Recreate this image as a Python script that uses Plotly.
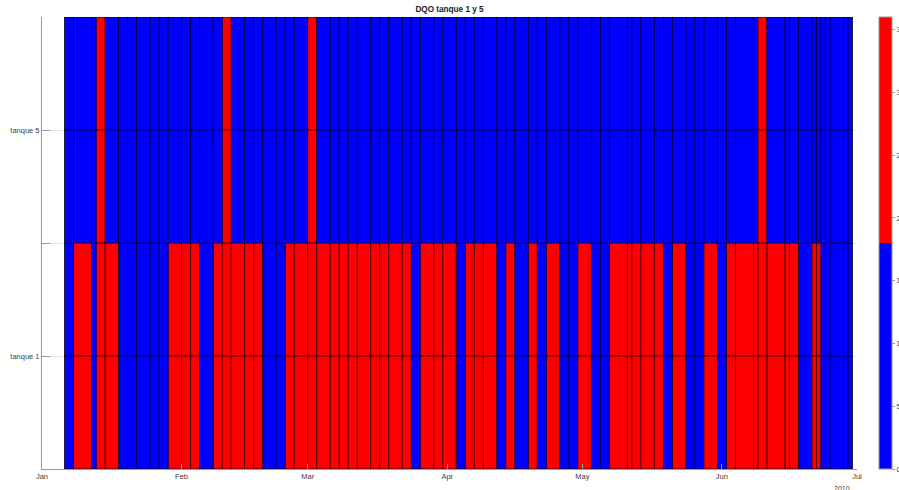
import plotly.graph_objects as go

# ---- data ----
sample_dates = [
    "2010-01-06", "2010-01-08", "2010-01-12", "2010-01-13", "2010-01-15", "2010-01-18",
    "2010-01-20", "2010-01-22", "2010-01-25", "2010-01-27", "2010-01-29", "2010-02-01",
    "2010-02-03", "2010-02-05", "2010-02-08", "2010-02-10", "2010-02-12", "2010-02-15",
    "2010-02-17", "2010-02-19", "2010-02-22", "2010-02-24", "2010-02-26", "2010-03-01",
    "2010-03-03", "2010-03-06", "2010-03-08", "2010-03-10", "2010-03-12", "2010-03-15",
    "2010-03-17", "2010-03-19", "2010-03-22", "2010-03-24", "2010-03-26", "2010-03-29",
    "2010-03-31", "2010-04-03", "2010-04-05", "2010-04-07", "2010-04-09", "2010-04-12",
    "2010-04-14", "2010-04-16", "2010-04-19", "2010-04-21", "2010-04-23", "2010-04-26",
    "2010-04-28", "2010-04-30", "2010-05-03", "2010-05-05", "2010-05-07", "2010-05-11",
    "2010-05-12", "2010-05-14", "2010-05-17", "2010-05-19", "2010-05-21", "2010-05-24",
    "2010-05-26", "2010-05-28", "2010-05-31", "2010-06-02", "2010-06-04", "2010-06-08",
    "2010-06-09", "2010-06-11", "2010-06-15", "2010-06-16", "2010-06-18", "2010-06-21",
    "2010-06-22", "2010-06-23", "2010-06-24", "2010-06-25", "2010-06-28", "2010-06-29",
]
end_date = "2010-06-30"

dqo_tanque1 = [
    12, 24, 15, 27, 22, 14, 11, 9, 13, 16,
    25, 29, 21, 17, 23, 26, 30, 24, 20, 15,
    12, 22, 28, 31, 25, 27, 23, 26, 29, 33,
    24, 21, 19, 14, 22, 25, 20, 16, 23, 27,
    21, 13, 19, 15, 24, 11, 22, 14, 17, 20,
    12, 15, 26, 23, 28, 25, 21, 16, 24, 13,
    10, 22, 15, 27, 30, 25, 33, 28, 24, 21,
    14, 20, 23, 12, 9, 11, 8, 10,
]
dqo_tanque5 = [
    8, 10, 7, 21, 9, 6, 11, 8, 7, 10,
    9, 6, 8, 12, 10, 23, 9, 7, 8, 11,
    10, 9, 7, 20, 8, 6, 9, 10, 8, 7,
    11, 9, 8, 10, 7, 9, 12, 8, 6, 9,
    10, 8, 7, 11, 9, 8, 10, 7, 9, 8,
    10, 11, 9, 8, 7, 10, 9, 8, 11, 7,
    9, 10, 8, 9, 7, 10, 25, 8, 9, 7,
    10, 8, 9, 7, 11, 8, 9, 10,
]
row_labels = ["tanque 1", "tanque 5"]
month_ticks = ["2010-01-01", "2010-02-01", "2010-03-01", "2010-04-01",
               "2010-05-01", "2010-06-01", "2010-07-01"]
month_labels = ["Jan", "Feb", "Mar", "Apr", "May", "Jun", "Jul"]
cbar_ticks = [0, 5, 10, 15, 20, 25, 30, 35]

# ---- figure ----
edges = sample_dates + [end_date]
FONT = "Liberation Sans, Arial, sans-serif"
TXT = "#404040"

fig = go.Figure()
fig.add_trace(go.Heatmap(
    x=edges,
    y=[0.5, 1.5, 2.5],
    z=[dqo_tanque1, dqo_tanque5],
    zmin=0, zmax=36,
    colorscale=[[0, "#0000ff"], [0.5, "#0000ff"], [0.5, "#ff0000"], [1, "#ff0000"]],
    hoverinfo="skip",
    colorbar=dict(
        x=(879 - 42) / 815, xanchor="left", xpad=0,
        y=0.5, yanchor="middle", len=1, lenmode="fraction", ypad=0,
        thickness=13,
        outlinecolor="#9a9a9a", outlinewidth=1,
        tickvals=cbar_ticks, ticks="outside", ticklen=3, tickcolor="#9a9a9a",
        tickfont=dict(family=FONT, size=7.5, color=TXT),
    ),
))

# cell edge lines (black), like faceted shading
vx, vy = [], []
for e in edges:
    vx += [e, e, None]
    vy += [0.5, 2.5, None]
for yv in [0.5, 1.0, 1.5, 2.0, 2.5]:
    vx += [edges[0], edges[-1], None]
    vy += [yv, yv, None]
fig.add_trace(go.Scatter(
    x=vx, y=vy, mode="lines",
    line=dict(color="rgba(0,0,0,0.75)", width=1),
    hoverinfo="skip", showlegend=False,
))

fig.update_layout(
    width=899, height=490,
    margin=dict(l=42, r=42, t=17, b=21, autoexpand=False),
    paper_bgcolor="white", plot_bgcolor="white",
    font=dict(family=FONT, size=7.5, color=TXT),
    showlegend=False,
    title=dict(text="<b>DQO tanque 1 y 5</b>", x=0.5, xanchor="center",
               y=1 - 9 / 490, yanchor="middle",
               font=dict(family=FONT, size=8.2, color="#222")),
    xaxis=dict(
        type="date", range=["2010-01-01", "2010-07-01"],
        tickvals=month_ticks, ticktext=month_labels,
        ticks="inside", ticklen=5, tickcolor="#9a9a9a",
        showline=True, linecolor="#9a9a9a", linewidth=1,
        showgrid=True, gridcolor="#e2e2e2", zeroline=False,
        tickfont=dict(family=FONT, size=7.5, color=TXT),
    ),
    yaxis=dict(
        range=[0.5, 2.5],
        tickvals=[0.5, 1, 1.5, 2, 2.5],
        ticktext=["", row_labels[0], "", row_labels[1], ""],
        ticks="inside", ticklen=8, tickcolor="#9a9a9a",
        showline=True, linecolor="#9a9a9a", linewidth=1,
        showgrid=True, gridcolor="#e2e2e2", zeroline=False,
        tickfont=dict(family=FONT, size=7.5, color=TXT),
    ),
    annotations=[dict(text="2010", xref="paper", yref="paper",
                      x=(842 - 42) / 815, y=-19 / 452, xanchor="center", yanchor="middle",
                      showarrow=False, font=dict(family=FONT, size=7, color=TXT))],
)

fig.write_html("out.html")
